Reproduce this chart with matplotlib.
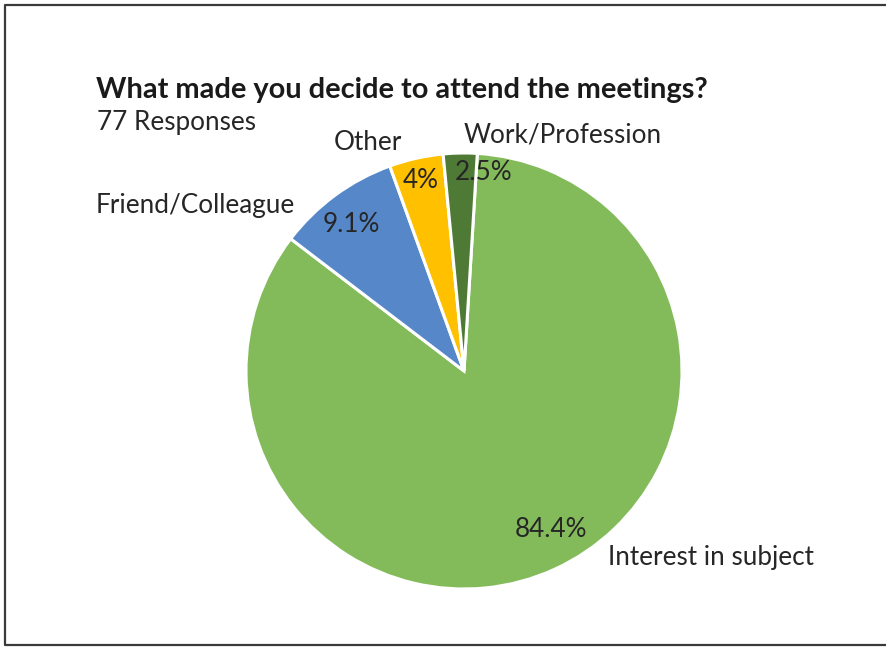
import matplotlib.pyplot as plt
from matplotlib.lines import Line2D

# survey answers, share of 77 responses (%)
categories = ['Interest in subject', 'Friend/Colleague', 'Other', 'Work/Profession']
shares = [84.4, 9.1, 4, 2.5]
colors = ['#83BB5B', '#5688C9', '#FFC000', '#4F7A36']
title = 'What made you decide to attend the meetings?'
subtitle = '77 Responses'

# label anchors in pixel coordinates (x, baseline y from top)
name_pos = [(608, 565), (96, 213), (334, 150), (464, 143)]
pct_pos = [(551, 537), (351, 232), (421, 188), (484, 180)]

W, H = 886, 647
fig = plt.figure(figsize=(W / 100, H / 100), dpi=100)
ax = fig.add_axes([0, 0, 1, 1])

wedges, _ = ax.pie(shares, colors=colors, startangle=86.5, counterclock=False,
                   center=(464, H - 371), radius=218,
                   wedgeprops=dict(edgecolor='white', linewidth=2.2))
ax.set_xlim(0, W)
ax.set_ylim(0, H)
ax.set_aspect('auto')
ax.axis('off')

font = 'Lato'
txt = '#262626'
ax.text(96, H - 98, title, fontsize=20.9, fontweight='bold', family=font,
        color='#1a1a1a', va='baseline', ha='left')
ax.text(97, H - 130, subtitle, fontsize=18.8, family=font, color=txt,
        va='baseline', ha='left')

for name, (x, y) in zip(categories, name_pos):
    ax.text(x, H - y, name, fontsize=18.8, family=font, color=txt,
            va='baseline', ha='left')
for v, (x, y) in zip(shares, pct_pos):
    ax.text(x, H - y, f'{v:g}%', fontsize=18.8, family=font, color=txt,
            va='baseline', ha='center')

# outer frame, open on the right
ax.add_line(Line2D([W + 5, 5, 5, W + 5], [H - 5, H - 5, H - 645, H - 645],
                   color='#3a3a3a', linewidth=1.6, clip_on=False))

fig.savefig('out.png', dpi=100)
